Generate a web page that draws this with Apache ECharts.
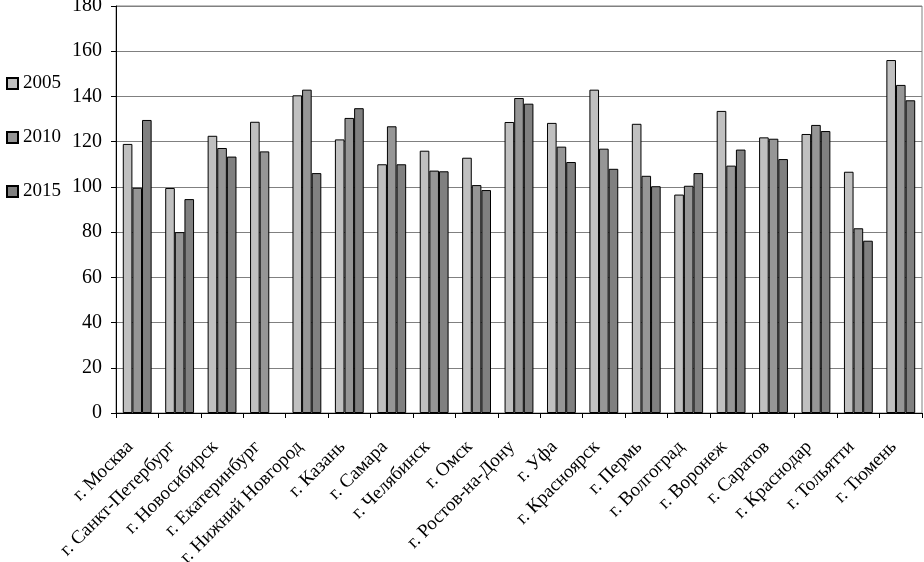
<!DOCTYPE html>
<html>
<head>
<meta charset="utf-8">
<script src="https://cdn.jsdelivr.net/npm/echarts@6/dist/echarts.min.js"></script>
<style>html,body{margin:0;padding:0;background:#fff}#c{width:924px;height:562px}</style>
</head>
<body>
<div id="c"></div>
<script>
const categories = ['г. Москва','г. Санкт-Петербург','г. Новосибирск','г. Екатеринбург','г. Нижний Новгород','г. Казань','г. Самара','г. Челябинск','г. Омск','г. Ростов-на-Дону','г. Уфа','г. Красноярск','г. Пермь','г. Волгоград','г. Воронеж','г. Саратов','г. Краснодар','г. Тольятти','г. Тюмень'];
const seriesNames = ['2005','2010','2015'];
const v2005 = [119,99.5,122.6,128.8,140.5,121,110,116,112.9,128.7,128.3,143,127.9,96.6,133.6,121.9,123.4,106.7,156.1];
const v2010 = [99.6,80,117.2,115.7,143,130.5,126.8,107.2,100.8,139.3,117.8,116.9,104.9,100.5,109.4,121.3,127.4,81.7,145.1];
const v2015 = [129.6,94.6,113.4,null,106.1,134.8,110,106.9,98.6,136.8,111,108,100.3,106.1,116.5,112.3,124.7,76.2,138.3];
const yTicks = [0,20,40,60,80,100,120,140,160,180];

const colors = ['#c0c0c0','#969696','#808080'];
const values = [v2005, v2010, v2015];
const font = 'Liberation Serif';

const chart = echarts.init(document.getElementById('c'), null, {renderer:'canvas'});
chart.setOption({
  animation:false,
  backgroundColor:'#fff',
  textStyle:{fontFamily:font},
  grid:{left:116,right:2,top:6,bottom:149,show:true,borderColor:'#808080',borderWidth:1,containLabel:false,outerBoundsMode:'none'},
  legend:{
    orient:'vertical', left:1, top:69, itemGap:35, itemWidth:11, itemHeight:11,
    icon:'rect',
    textStyle:{fontFamily:font,fontSize:19,color:'#000'},
    data:seriesNames
  },
  xAxis:{
    type:'category', data:categories,
    axisLine:{lineStyle:{color:'#000',width:1}},
    axisTick:{show:true,alignWithLabel:false,length:5,lineStyle:{color:'#000'}},
    axisLabel:{rotate:45,interval:0,margin:24,padding:[0,10,0,0],fontFamily:font,fontSize:19,color:'#000'},
    splitLine:{show:false}
  },
  yAxis:{
    type:'value', min:yTicks[0], max:yTicks[yTicks.length-1], interval:yTicks[1]-yTicks[0],
    axisLine:{show:true,lineStyle:{color:'#000',width:1}},
    axisTick:{show:true,length:5,lineStyle:{color:'#000'}},
    axisLabel:{margin:14,fontFamily:font,fontSize:20,color:'#000'},
    splitLine:{show:true,lineStyle:{color:'#808080',width:1}}
  },
  series: seriesNames.map((n,i)=>({
    name:n, type:'bar', data:values[i],
    barGap:'0%', barCategoryGap:'32%',
    itemStyle:{color:colors[i],borderColor:'#000',borderWidth:1}
  }))
});
</script>
</body>
</html>
